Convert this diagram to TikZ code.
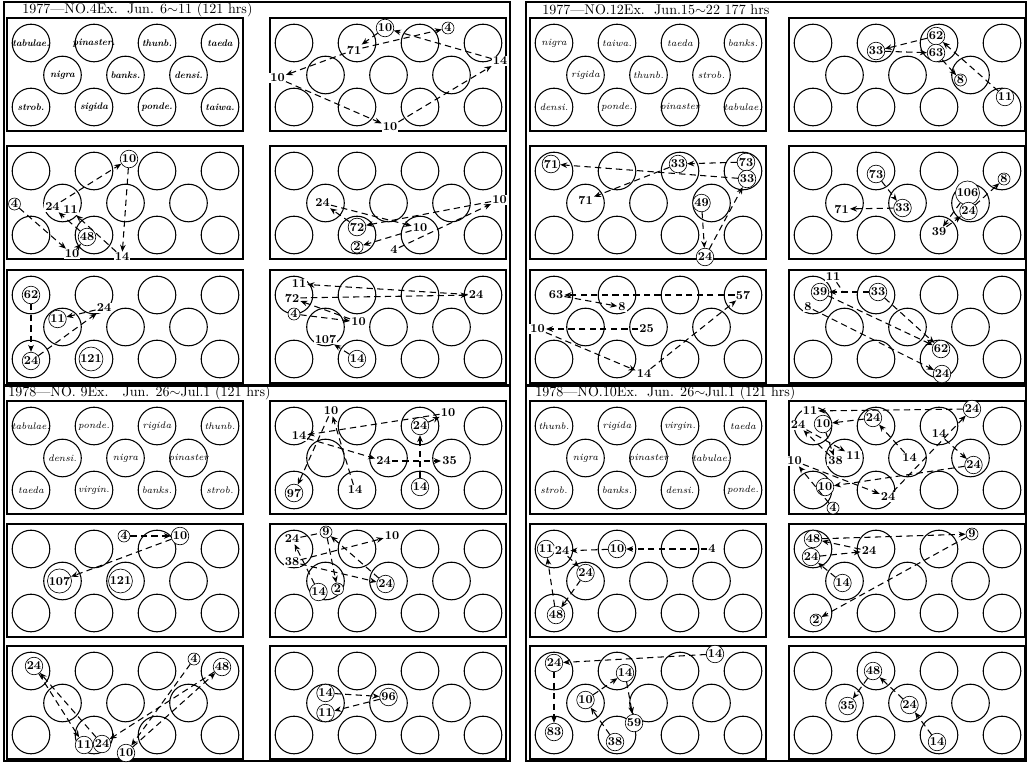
\documentclass[tikz,border=0pt]{standalone}
\usepackage{tikz}
\usetikzlibrary{positioning, arrows.meta, calc}

% one plot: frame and 11 tree circles (t = top row, m = middle row, b = bottom row)
\newcommand{\treepanel}[3]{%
  \draw[panel] (#2,#3) rectangle ++(236,113);
  \foreach \i in {1,...,4}{%
    \node[tree] (#1-t\i) at ({#2+24+63*(\i-1)},{#3+25}) {};
    \node[tree] (#1-b\i) at ({#2+24+63*(\i-1)},{#3+89}) {};
  }
  \foreach \i in {1,...,3}
    \node[tree] (#1-m\i) at ({#2+55.5+63*(\i-1)},{#3+57}) {};
}

\begin{document}
\begin{tikzpicture}[
        x=0.025cm, y=-0.025cm,
        font=\footnotesize,
        panel/.style={draw, line width=1.1pt},
        tree/.style={draw, circle, line width=0.75pt, minimum size=0.94cm, inner sep=0pt},
        sp/.style={font=\fontsize{6.8}{7}\selectfont\itshape, inner sep=0pt},
        numc/.style={draw, circle, line width=0.45pt, fill=white, inner sep=0.3pt, minimum size=8.5pt, font=\fontsize{8.6}{9}\selectfont\bfseries},
        nump/.style={fill=white, inner sep=0.7pt, font=\fontsize{8.6}{9}\selectfont\bfseries},
        mv/.style={-{Stealth[length=5pt,width=4pt]}, line width=0.75pt, dash pattern=on 4.5pt off 3pt},
        mvline/.style={line width=0.75pt, dash pattern=on 4.5pt off 3pt},
        frame/.style={draw, line width=1pt},
        ttl/.style={anchor=west, inner sep=0pt, font=\fontsize{10}{10}\selectfont},
    ]
    \useasboundingbox (0,0) rectangle (1028,763);

    % Frames and titles
    \draw[frame] (4,2) rectangle (510,385);
    \draw[frame] (526,2) rectangle (1026,385);
    \draw[frame] (4,386) rectangle (510,761);
    \draw[frame] (526,386) rectangle (1026,761);
    \node[ttl] (ttl-a) at (22,10) {1977---NO.4Ex.\ \ Jun. 6$\sim$11 (121 hrs)};
    \node[ttl] (ttl-b) at (542,10) {1977---NO.12Ex.\ \ Jun.15$\sim$22 177 hrs};
    \node[ttl] (ttl-c) at (8,393) {1978---NO. 9Ex.\ \ \ Jun. 26$\sim$Jul.1 (121 hrs)};
    \node[ttl] (ttl-d) at (535,393) {1978---NO.10Ex.\ \ Jun. 26$\sim$Jul.1 (121 hrs)};

    % Plots
    \treepanel{p11}{7}{18}    \treepanel{p12}{270}{18}
    \treepanel{p21}{7}{146}   \treepanel{p22}{270}{146}
    \treepanel{p31}{7}{270}   \treepanel{p32}{270}{270}
    \treepanel{p13}{530}{18}  \treepanel{p14}{789}{18}
    \treepanel{p23}{530}{146} \treepanel{p24}{789}{146}
    \treepanel{p33}{530}{270} \treepanel{p34}{789}{270}
    \treepanel{p41}{7}{401}   \treepanel{p42}{270}{401}
    \treepanel{p51}{7}{524}   \treepanel{p52}{270}{524}
    \treepanel{p61}{7}{646}   \treepanel{p62}{270}{646}
    \treepanel{p43}{530}{401} \treepanel{p44}{789}{401}
    \treepanel{p53}{530}{524} \treepanel{p54}{789}{524}
    \treepanel{p63}{530}{646} \treepanel{p64}{789}{646}

    % Species plans
    \foreach \c/\s in {t1/tabulae., t2/pinaster., t3/thunb., t4/taeda, m1/nigra, m2/banks., m3/densi., b1/strob., b2/sigida, b3/ponde., b4/taiwa.}
        \node[sp, font=\fontsize{6.8}{7}\selectfont\bfseries\itshape] (p11-\c-sp) at (p11-\c) {\s};
    \foreach \c/\s in {t1/nigra, t2/taiwa., t3/taeda, t4/banks., m1/rigida, m2/thunb., m3/strob., b1/densi., b2/ponde., b3/pinaster, b4/tabulae.}
        \node[sp] (p13-\c-sp) at (p13-\c) {\s};
    \foreach \c/\s in {t1/tabulae., t2/ponde., t3/rigida, t4/thunb., m1/densi., m2/nigra, m3/pinaster, b1/taeda, b2/virgin., b3/banks., b4/strob.}
        \node[sp] (p41-\c-sp) at (p41-\c) {\s};
    \foreach \c/\s in {t1/thunb., t2/rigida, t3/virgin., t4/taeda, m1/nigra, m2/pinaster, m3/tabulae., b1/strob., b2/banks., b3/densi., b4/ponde.}
        \node[sp] (p43-\c-sp) at (p43-\c) {\s};

    % 1977 No.4
    \node[numc] (p12-10a) at ($(p12-t2)+(28,-15)$) {10};
    \node[numc] (p12-4) at ($(p12-t3)+(28,-15)$) {4};
    \node[nump] (p12-71) at ($(p12-t2)+(-3,7)$) {71};
    \node[nump] (p12-14) at ($(p12-t4)+(17,18)$) {14};
    \node[nump] (p12-10b) at ($(p12-m1)+(-48,3)$) {10};
    \node[nump] (p12-10c) at ($(p12-b2)+(33,20)$) {10};
    \draw[mv] (p12-14) -- (p12-10a);
    \draw[mv] (p12-10a) -- (p12-71);
    \draw[mv] (p12-71) -- (p12-4);
    \draw[mv] (p12-71) -- (p12-10b);
    \draw[mv] (p12-10b) -- (p12-10c);
    \draw[mv] (p12-10c) -- (p12-14);

    \node[numc] (p21-4) at ($(p21-m1)+(-48,1)$) {4};
    \node[nump] (p21-24) at ($(p21-m1)+(-10,4)$) {24};
    \node[nump] (p21-11) at ($(p21-m1)+(8,7)$) {11};
    \node[numc] (p21-48) at ($(p21-b2)+(-7,2)$) {48};
    \node[nump] (p21-10a) at ($(p21-b2)+(-22,19)$) {10};
    \node[numc] (p21-10b) at ($(p21-t2)+(35,-12)$) {10};
    \node[nump] (p21-14) at ($(p21-b2)+(28,22)$) {14};
    \draw[mv] (p21-4) -- (p21-10a);
    \draw[mv] (p21-10a) -- (p21-48);
    \draw[mv] (p21-48) -- (p21-24);
    \draw[mv] (p21-14) -- (p21-11);
    \draw[mv] (p21-24) -- (p21-10b);
    \draw[mv] (p21-10b) -- (p21-14);

    \node[nump] (p22-24) at ($(p22-m1)+(-3,0)$) {24};
    \node[numc] (p22-72) at ($(p22-b2)+(0,-8)$) {72};
    \node[numc] (p22-2) at ($(p22-b2)+(0,12)$) {2};
    \node[nump] (p22-10a) at ($(p22-b3)+(0,-7)$) {10};
    \node[nump] (p22-10b) at ($(p22-m3)+(48,-3)$) {10};
    \node[nump] (p22-4) at ($(p22-b2)+(37,15)$) {4};
    \draw[mv] (p22-24) -- (p22-10a);
    \draw[mv] (p22-10a) -- (p22-2);
    \draw[mv] (p22-4) -- (p22-10b);
    \draw[mv] (p22-10b) -- (p22-72);
    \draw[mv] (p22-72) -- (p22-24);

    \node[numc] (p31-62) at (p31-t1) {62};
    \node[numc] (p31-24a) at ($(p31-b1)+(0,2)$) {24};
    \node[numc] (p31-11) at ($(p31-m1)+(-5,-8)$) {11};
    \node[nump] (p31-24b) at ($(p31-t2)+(10,13)$) {24};
    \node[numc] (p31-121) at ($(p31-b2)+(-3,0)$) {121};
    \draw[mv] (p31-62) -- (p31-24a);
    \draw[mv] (p31-24a) -- (p31-24b);
    \draw[mv] (p31-24b) -- (p31-11);

    \node[nump] (p32-11) at ($(p32-t1)+(5,-11)$) {11};
    \node[nump] (p32-72) at ($(p32-t1)+(-2,3)$) {72};
    \node[numc] (p32-4) at ($(p32-t1)+(0,19)$) {4};
    \node[nump] (p32-10) at ($(p32-m1)+(33,-5)$) {10};
    \node[nump] (p32-24) at ($(p32-t4)+(-7,0)$) {24};
    \node[nump] (p32-107) at ($(p32-m1)+(0,12)$) {107};
    \node[numc] (p32-14) at (p32-b2) {14};
    \draw[mv] (p32-24) -- (p32-11);
    \draw[mv] (p32-72) -- (p32-24);
    \draw[mv] (p32-10) -- (p32-72);
    \draw[mv] (p32-4) -- (p32-10);
    \draw[mv] (p32-14) -- (p32-107);

    % 1977 No.12
    \node[numc] (p14-62) at ($(p14-t3)+(-3,-7)$) {62};
    \node[numc] (p14-33) at ($(p14-t2)+(0,8)$) {33};
    \node[numc] (p14-63) at ($(p14-t3)+(-3,10)$) {63};
    \node[numc] (p14-8) at ($(p14-m3)+(-10,5)$) {8};
    \node[numc] (p14-11) at ($(p14-b4)+(3,-10)$) {11};
    \draw[mv] (p14-62) -- (p14-33);
    \draw[mv] (p14-33) -- (p14-63);
    \draw[mv] (p14-63) -- (p14-8);
    \draw[mv] (p14-11) -- (p14-62);

    \node[numc] (p23-71a) at ($(p23-t1)+(-3,-7)$) {71};
    \node[numc] (p23-33a) at ($(p23-t3)+(-2,-7)$) {33};
    \node[numc] (p23-73) at ($(p23-t4)+(3,-9)$) {73};
    \node[numc] (p23-33b) at ($(p23-t4)+(4,8)$) {33};
    \node[nump] (p23-71b) at ($(p23-m1)+(0,-3)$) {71};
    \node[numc] (p23-49) at ($(p23-m3)+(-10,0)$) {49};
    \node[numc] (p23-24) at ($(p23-b3)+(25,22)$) {24};
    \draw[mv] (p23-73) -- (p23-33a);
    \draw[mv] (p23-33a) -- (p23-71b);
    \draw[mv] (p23-49) -- (p23-24);
    \draw[mv] (p23-24) -- (p23-33b);
    \draw[mv] (p23-33b) -- (p23-71a);

    \node[numc] (p24-73) at ($(p24-t2)+(0,3)$) {73};
    \node[numc] (p24-33) at ($(p24-m2)+(-5,5)$) {33};
    \node[nump] (p24-71) at ($(p24-m1)+(-3,6)$) {71};
    \node[numc] (p24-8) at ($(p24-t4)+(2,8)$) {8};
    \node[numc] (p24-106) at ($(p24-m3)+(-3,-10)$) {106};
    \node[numc] (p24-24) at ($(p24-m3)+(-2,8)$) {24};
    \node[nump] (p24-39) at ($(p24-b3)+(0,-3)$) {39};
    \draw[mv] (p24-73) -- (p24-33);
    \draw[mv] (p24-33) -- (p24-71);
    \draw[mv] (p24-24) -- (p24-8);
    \draw[mv] (p24-106) -- (p24-39);
    \draw[mv] (p24-39) -- (p24-24);

    \node[nump] (p33-63) at ($(p33-t1)+(2,0)$) {63};
    \node[nump] (p33-8) at ($(p33-t2)+(5,12)$) {8};
    \node[nump] (p33-57) at (p33-t4) {57};
    \node[nump] (p33-10) at ($(p33-m1)+(-48,2)$) {10};
    \node[nump] (p33-25) at ($(p33-m2)+(-2,2)$) {25};
    \node[nump] (p33-14) at ($(p33-b2)+(27,15)$) {14};
    \draw[mv] (p33-57) -- (p33-63);
    \draw[mv] (p33-63) -- (p33-8);
    \draw[mv] (p33-25) -- (p33-10);
    \draw[mv] (p33-10) -- (p33-14);
    \draw[mv] (p33-14) -- (p33-57);

    \node[nump] (p34-11) at ($(p34-t1)+(20,-18)$) {11};
    \node[numc] (p34-39) at ($(p34-t1)+(7,-3)$) {39};
    \node[nump] (p34-8) at ($(p34-t1)+(-5,12)$) {8};
    \node[numc] (p34-33) at ($(p34-t2)+(2,-3)$) {33};
    \node[numc] (p34-62) at ($(p34-b3)+(2,-10)$) {62};
    \node[numc] (p34-24) at ($(p34-b3)+(3,15)$) {24};
    \coordinate (p34-j) at ($(p34-39)!0.4!(p34-33)$);
    \draw[mv] (p34-33) -- (p34-39);
    \draw[mvline] (p34-11) -- (p34-j);
    \draw[mv] (p34-39) -- (p34-62);
    \draw[mv] (p34-33) -- (p34-62);
    \draw[mv] (p34-8) -- (p34-24);

    % 1978 No.9
    \node[nump] (p42-10a) at ($(p42-t1)+(37,-15)$) {10};
    \node[nump] (p42-14a) at ($(p42-t1)+(5,10)$) {14};
    \node[nump] (p42-10b) at ($(p42-t3)+(28,-13)$) {10};
    \node[numc] (p42-24a) at (p42-t3) {24};
    \node[nump] (p42-24b) at ($(p42-m2)+(-5,3)$) {24};
    \node[nump] (p42-35) at ($(p42-m3)+(-2,3)$) {35};
    \node[numc] (p42-97) at ($(p42-b1)+(0,3)$) {97};
    \node[nump] (p42-14b) at ($(p42-b2)+(-2,0)$) {14};
    \node[numc] (p42-14c) at ($(p42-b3)+(0,-3)$) {14};
    \draw[mv] (p42-14b) -- (p42-10a);
    \draw[mv] (p42-10a) -- (p42-97);
    \draw[mv] (p42-10b) -- (p42-14a);
    \draw[mv] (p42-14a) -- (p42-24b);
    \draw[mv] (p42-24b) -- (p42-35);
    \draw[mv] (p42-14c) -- (p42-24a);
    \draw[mv] (p42-24a) -- (p42-10b);

    \node[numc] (p51-4) at ($(p51-t2)+(30,-13)$) {4};
    \node[numc] (p51-10) at ($(p51-t3)+(23,-13)$) {10};
    \node[numc] (p51-107) at ($(p51-m1)+(-3,0)$) {107};
    \node[numc] (p51-121) at ($(p51-m2)+(-5,0)$) {121};
    \draw[mv] (p51-4) -- (p51-10);
    \draw[mv] (p51-10) -- (p51-107);

    \node[numc] (p52-9) at ($(p52-t1)+(32,-17)$) {9};
    \node[nump] (p52-10) at ($(p52-t2)+(35,-13)$) {10};
    \node[nump] (p52-24a) at ($(p52-t1)+(-2,-10)$) {24};
    \node[nump] (p52-38) at ($(p52-t1)+(-2,13)$) {38};
    \node[numc] (p52-2) at ($(p52-m1)+(12,8)$) {2};
    \node[numc] (p52-14) at ($(p52-m1)+(-7,11)$) {14};
    \node[numc] (p52-24b) at ($(p52-m2)+(-3,3)$) {24};
    \draw[mvline] (p52-24a) -- (p52-9);
    \draw[mv] (p52-9) -- (p52-2);
    \draw[mv] (p52-24b) -- (p52-9);
    \draw[mv] (p52-38) -- (p52-10);
    \draw[mv] (p52-38) -- (p52-24b);
    \draw[mv] (p52-14) -- (p52-24a);

    \node[numc] (p61-24a) at ($(p61-t1)+(3,-5)$) {24};
    \node[numc] (p61-11) at ($(p61-b2)+(-10,10)$) {11};
    \node[numc] (p61-24b) at ($(p61-b2)+(8,9)$) {24};
    \node[numc] (p61-4) at ($(p61-t3)+(37,-12)$) {4};
    \node[numc] (p61-48) at ($(p61-t4)+(2,-4)$) {48};
    \node[numc] (p61-10) at ($(p61-b2)+(32,18)$) {10};
    \draw[mv] (p61-24a) -- (p61-11);
    \draw[mv] (p61-24b) -- (p61-24a);
    \draw[mv] (p61-48) -- (p61-24b);
    \draw[mv] (p61-4) -- (p61-10);
    \draw[mv] (p61-10) -- (p61-48);

    \node[numc] (p62-14) at ($(p62-m1)+(0,-10)$) {14};
    \node[numc] (p62-11) at ($(p62-m1)+(0,10)$) {11};
    \node[numc] (p62-96) at ($(p62-m2)+(0,-6)$) {96};
    \draw[mv] (p62-14) -- (p62-96);
    \draw[mv] (p62-96) -- (p62-11);

    % 1978 No.10
    \node[nump] (p44-11a) at ($(p44-t1)+(-3,-15)$) {11};
    \node[nump] (p44-24a) at ($(p44-t1)+(-15,-1)$) {24};
    \node[numc] (p44-10a) at ($(p44-t1)+(10,-2)$) {10};
    \node[numc] (p44-24b) at ($(p44-t2)+(-3,-8)$) {24};
    \node[numc] (p44-24c) at ($(p44-t3)+(33,-17)$) {24};
    \node[nump] (p44-14a) at ($(p44-t3)+(0,8)$) {14};
    \node[nump] (p44-38) at ($(p44-m1)+(-9,3)$) {38};
    \node[nump] (p44-11b) at ($(p44-m1)+(9,-2)$) {11};
    \node[nump] (p44-14b) at ($(p44-m2)+(2,0)$) {14};
    \node[numc] (p44-24d) at ($(p44-m3)+(3,7)$) {24};
    \node[nump] (p44-10b) at ($(p44-m1)+(-50,3)$) {10};
    \node[numc] (p44-10c) at ($(p44-b1)+(12,-3)$) {10};
    \node[numc] (p44-4) at ($(p44-b1)+(20,18)$) {4};
    \node[nump] (p44-24e) at ($(p44-b2)+(12,7)$) {24};
    \draw[mv] (p44-24c) -- (p44-11a);
    \draw[mv] (p44-24b) -- (p44-10a);
    \draw[mv] (p44-14b) -- (p44-24b);
    \draw[mv] (p44-24a) -- (p44-11b);
    \draw[mv] (p44-38) -- (p44-24a);
    \draw[mv] (p44-10a) -- (p44-38);
    \draw[mv] (p44-14a) -- (p44-24d);
    \draw[mv] (p44-24d) -- (p44-10c);
    \draw[mv] (p44-4) -- (p44-10b);
    \draw[mv] (p44-10b) -- (p44-24e);
    \draw[mv] (p44-24e) -- (p44-24c);

    \node[numc] (p53-11) at ($(p53-t1)+(-8,0)$) {11};
    \node[nump] (p53-24a) at ($(p53-t1)+(8,2)$) {24};
    \node[numc] (p53-10) at (p53-t2) {10};
    \node[nump] (p53-4) at ($(p53-t3)+(32,0)$) {4};
    \node[numc] (p53-24b) at ($(p53-m1)+(0,-8)$) {24};
    \node[numc] (p53-48) at ($(p53-b1)+(2,2)$) {48};
    \draw[mv] (p53-4) -- (p53-10);
    \draw[mv] (p53-10) -- (p53-24a);
    \draw[mv] (p53-24a) -- (p53-24b);
    \draw[mv] (p53-24b) -- (p53-48);
    \draw[mv] (p53-48) -- (p53-11);

    \node[numc] (p54-48) at ($(p54-t1)+(0,-10)$) {48};
    \node[numc] (p54-24a) at ($(p54-t1)+(-2,8)$) {24};
    \node[nump] (p54-24b) at ($(p54-t2)+(-7,2)$) {24};
    \node[numc] (p54-9) at ($(p54-t3)+(33,-15)$) {9};
    \node[numc] (p54-14) at ($(p54-m1)+(-2,2)$) {14};
    \node[numc] (p54-2) at ($(p54-b1)+(3,7)$) {2};
    \draw[mv] (p54-48) -- (p54-9);
    \draw[mv] (p54-9) -- (p54-2);
    \draw[mv] (p54-24b) -- (p54-48);
    \draw[mv] (p54-24a) -- (p54-24b);
    \draw[mv] (p54-14) -- (p54-24a);

    \node[numc] (p63-14a) at ($(p63-t3)+(35,-17)$) {14};
    \node[numc] (p63-24) at ($(p63-t1)+(0,-8)$) {24};
    \node[numc] (p63-14b) at ($(p63-t2)+(8,2)$) {14};
    \node[numc] (p63-10) at ($(p63-m1)+(0,-3)$) {10};
    \node[numc] (p63-83) at ($(p63-b1)+(0,-3)$) {83};
    \node[numc] (p63-38) at ($(p63-b2)+(-2,7)$) {38};
    \node[numc] (p63-59) at ($(p63-b2)+(17,-12)$) {59};
    \draw[mv] (p63-14a) -- (p63-24);
    \draw[mv] (p63-24) -- (p63-83);
    \draw[mv] (p63-10) -- (p63-14b);
    \draw[mv] (p63-14b) -- (p63-59);
    \draw[mv] (p63-38) -- (p63-10);

    \node[numc] (p64-48) at ($(p64-t2)+(-3,0)$) {48};
    \node[numc] (p64-35) at ($(p64-m1)+(3,3)$) {35};
    \node[numc] (p64-24) at ($(p64-m2)+(2,2)$) {24};
    \node[numc] (p64-14) at ($(p64-b3)+(-2,7)$) {14};
    \draw[mv] (p64-48) -- (p64-35);
    \draw[mv] (p64-24) -- (p64-48);
    \draw[mv] (p64-14) -- (p64-24);
\end{tikzpicture}
\end{document}
